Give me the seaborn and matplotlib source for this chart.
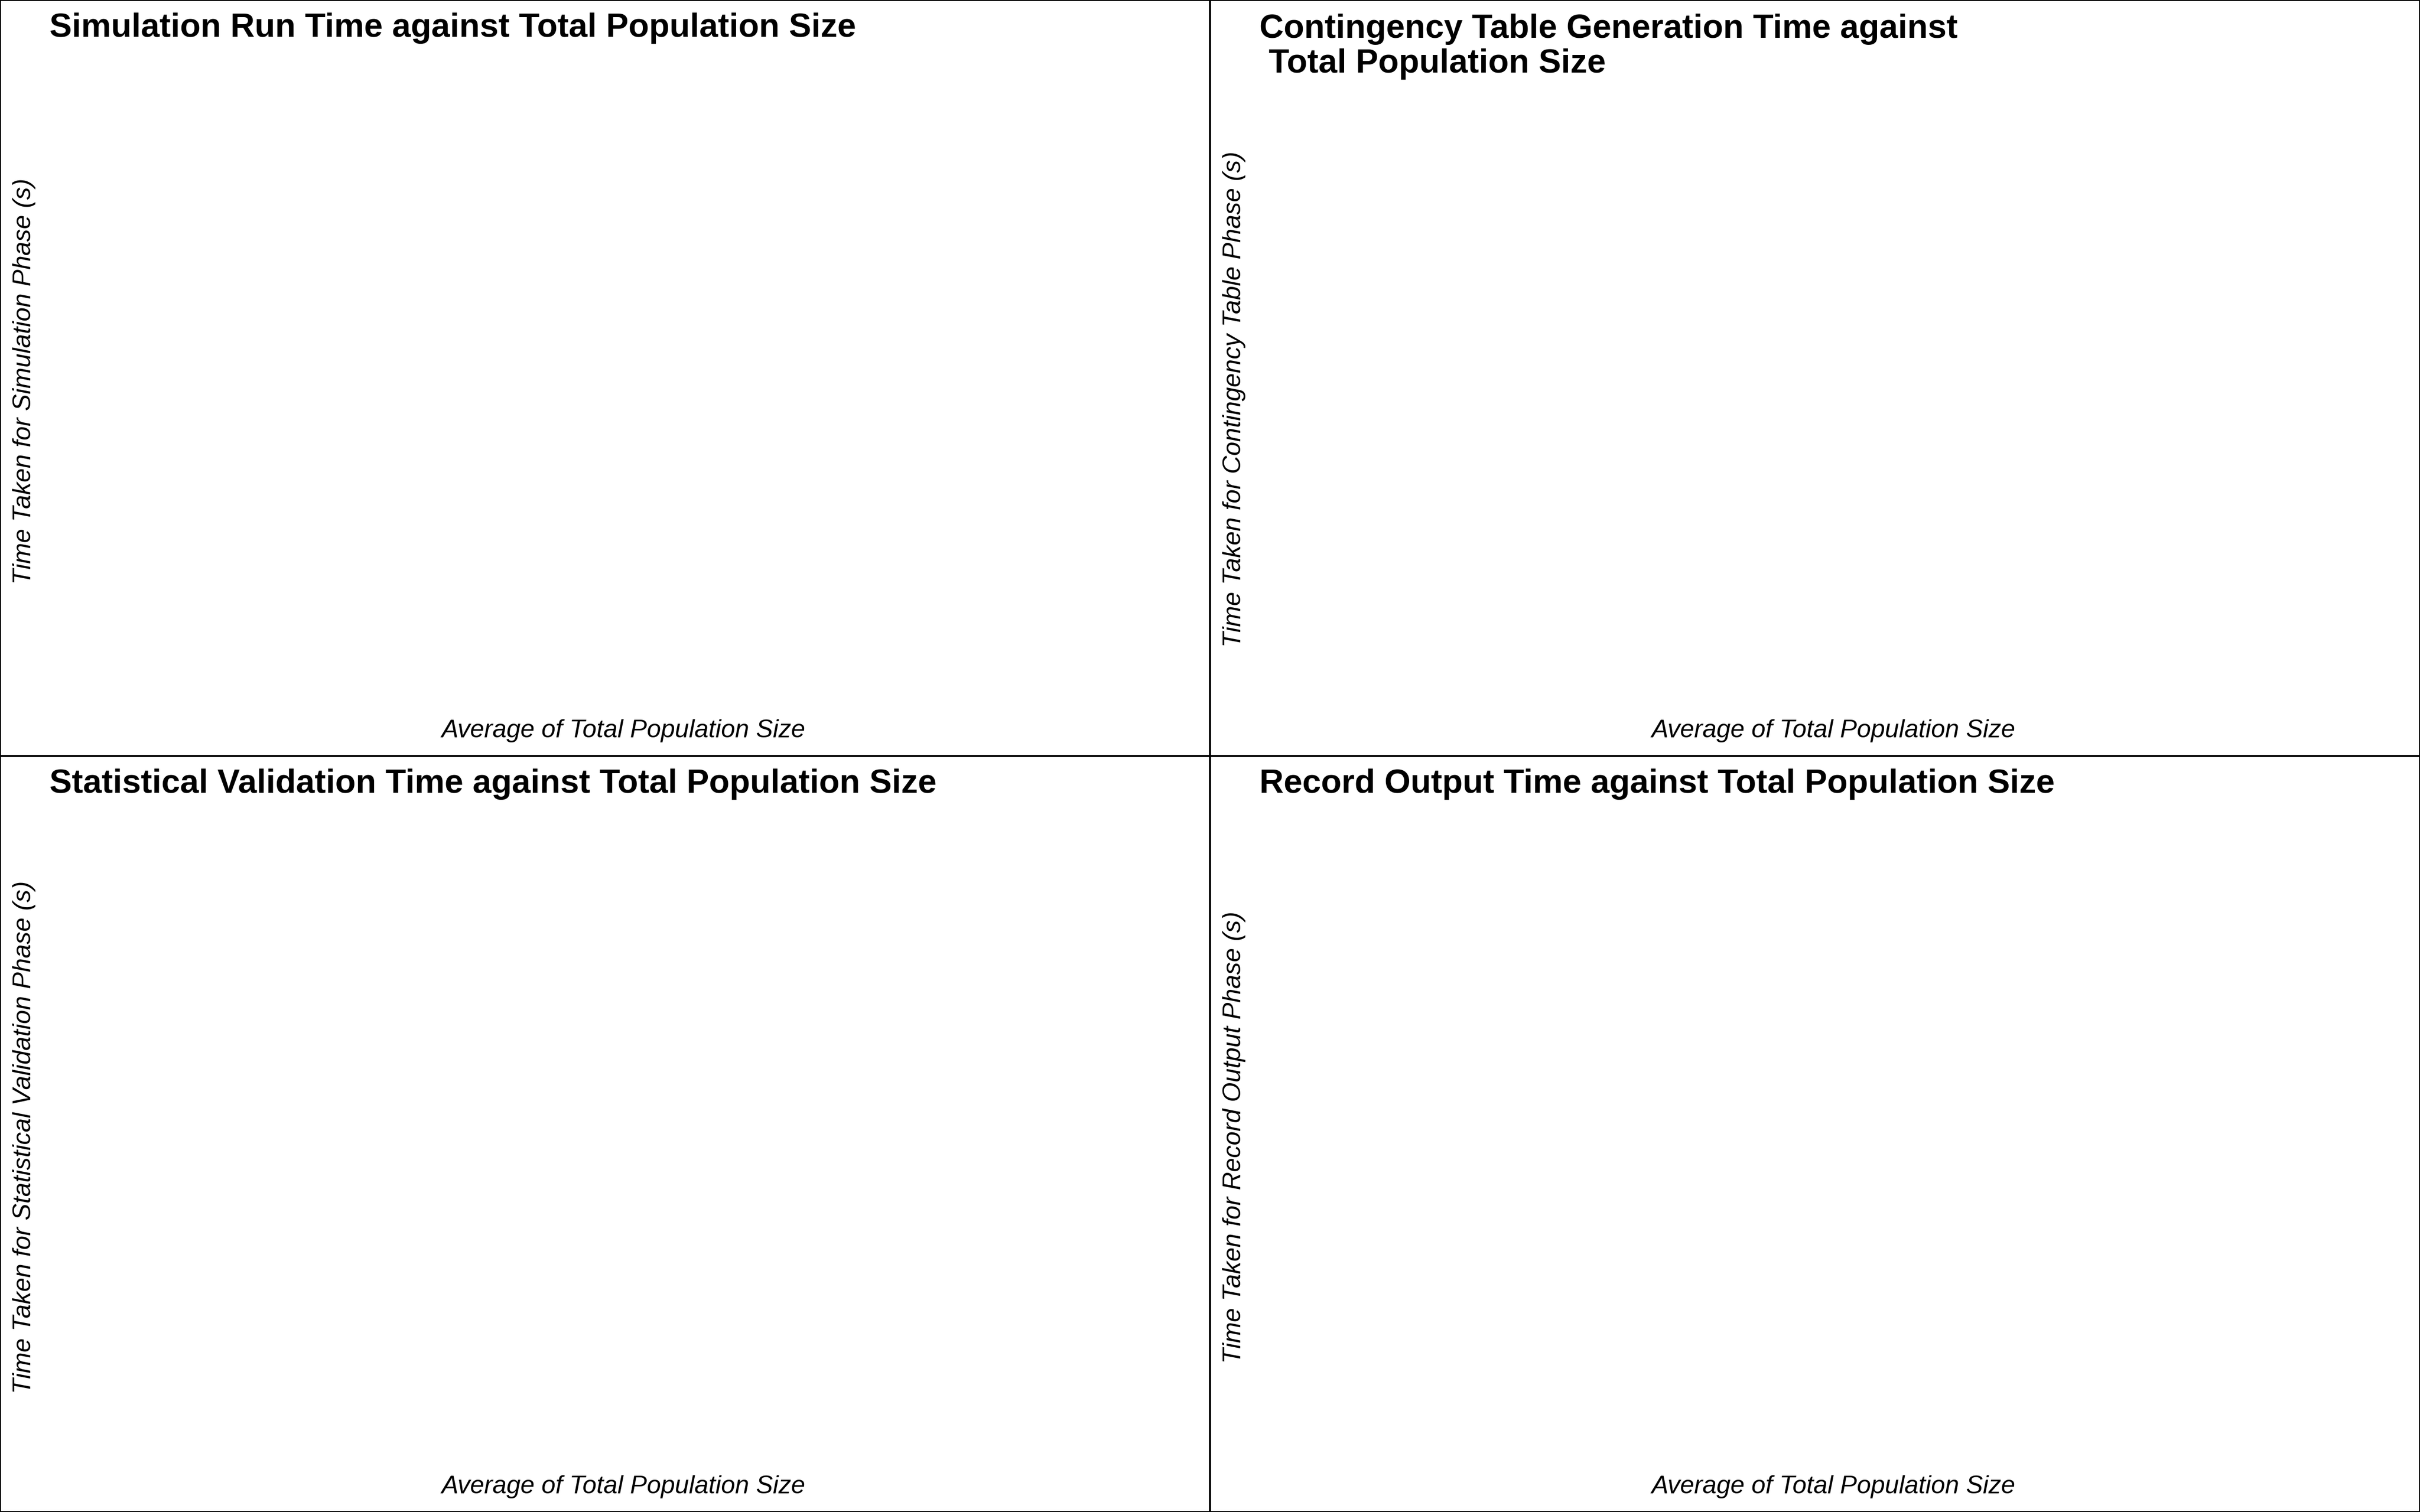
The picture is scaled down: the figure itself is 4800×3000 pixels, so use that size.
import matplotlib
matplotlib.use("Agg")
import matplotlib.pyplot as plt
from matplotlib.patches import Rectangle
import seaborn as sns

# the panels in the reference are empty: no data points were drawn
population_sizes = []
simulation_times = []
contingency_times = []
validation_times = []
output_times = []

titles = [
    "Simulation Run Time against Total Population Size",
    "Contingency Table Generation Time against\n Total Population Size",
    "Statistical Validation Time against Total Population Size",
    "Record Output Time against Total Population Size",
]
ylabels = [
    "Time Taken for Simulation Phase (s)",
    "Time Taken for Contingency Table Phase (s)",
    "Time Taken for Statistical Validation Phase (s)",
    "Time Taken for Record Output Phase (s)",
]
xlabel = "Average of Total Population Size"
times = [simulation_times, contingency_times, validation_times, output_times]

sns.set_theme(style="white")
plt.rcParams["font.family"] = ["Liberation Sans", "DejaVu Sans"]
plt.rcParams["text.color"] = "black"
plt.rcParams["axes.labelcolor"] = "black"

fig = plt.figure(figsize=(16, 10), dpi=300)

# axes boxes per panel (left, bottom, width, height) in figure fraction
boxes = [
    (0.0153, 0.5286, 0.4847, 0.4387),
    (0.5153, 0.5286, 0.4847, 0.4150),
    (0.0153, 0.0286, 0.4847, 0.4387),
    (0.5153, 0.0286, 0.4847, 0.4387),
]

for i in range(4):
    ax = fig.add_axes(boxes[i])
    sns.lineplot(x=population_sizes, y=times[i], ax=ax)
    ax.set_xticks([])
    ax.set_yticks([])
    sns.despine(ax=ax, left=True, bottom=True)
    ax.set_title(titles[i], loc="left", x=0.0105, fontsize=16, fontweight="bold",
                 color="black", pad=6, linespacing=1.15)
    ax.set_xlabel(xlabel, fontsize=12, style="italic", labelpad=3)
    ax.set_ylabel(ylabels[i], fontsize=12, style="italic", labelpad=0.5)

# frame round each quadrant
for x0 in (0.0, 0.5):
    for y0 in (0.0, 0.5):
        fig.patches.append(Rectangle((x0, y0), 0.5, 0.5, transform=fig.transFigure,
                                     fill=False, edgecolor="black", linewidth=1.0))

fig.savefig("out.png", dpi=300)
